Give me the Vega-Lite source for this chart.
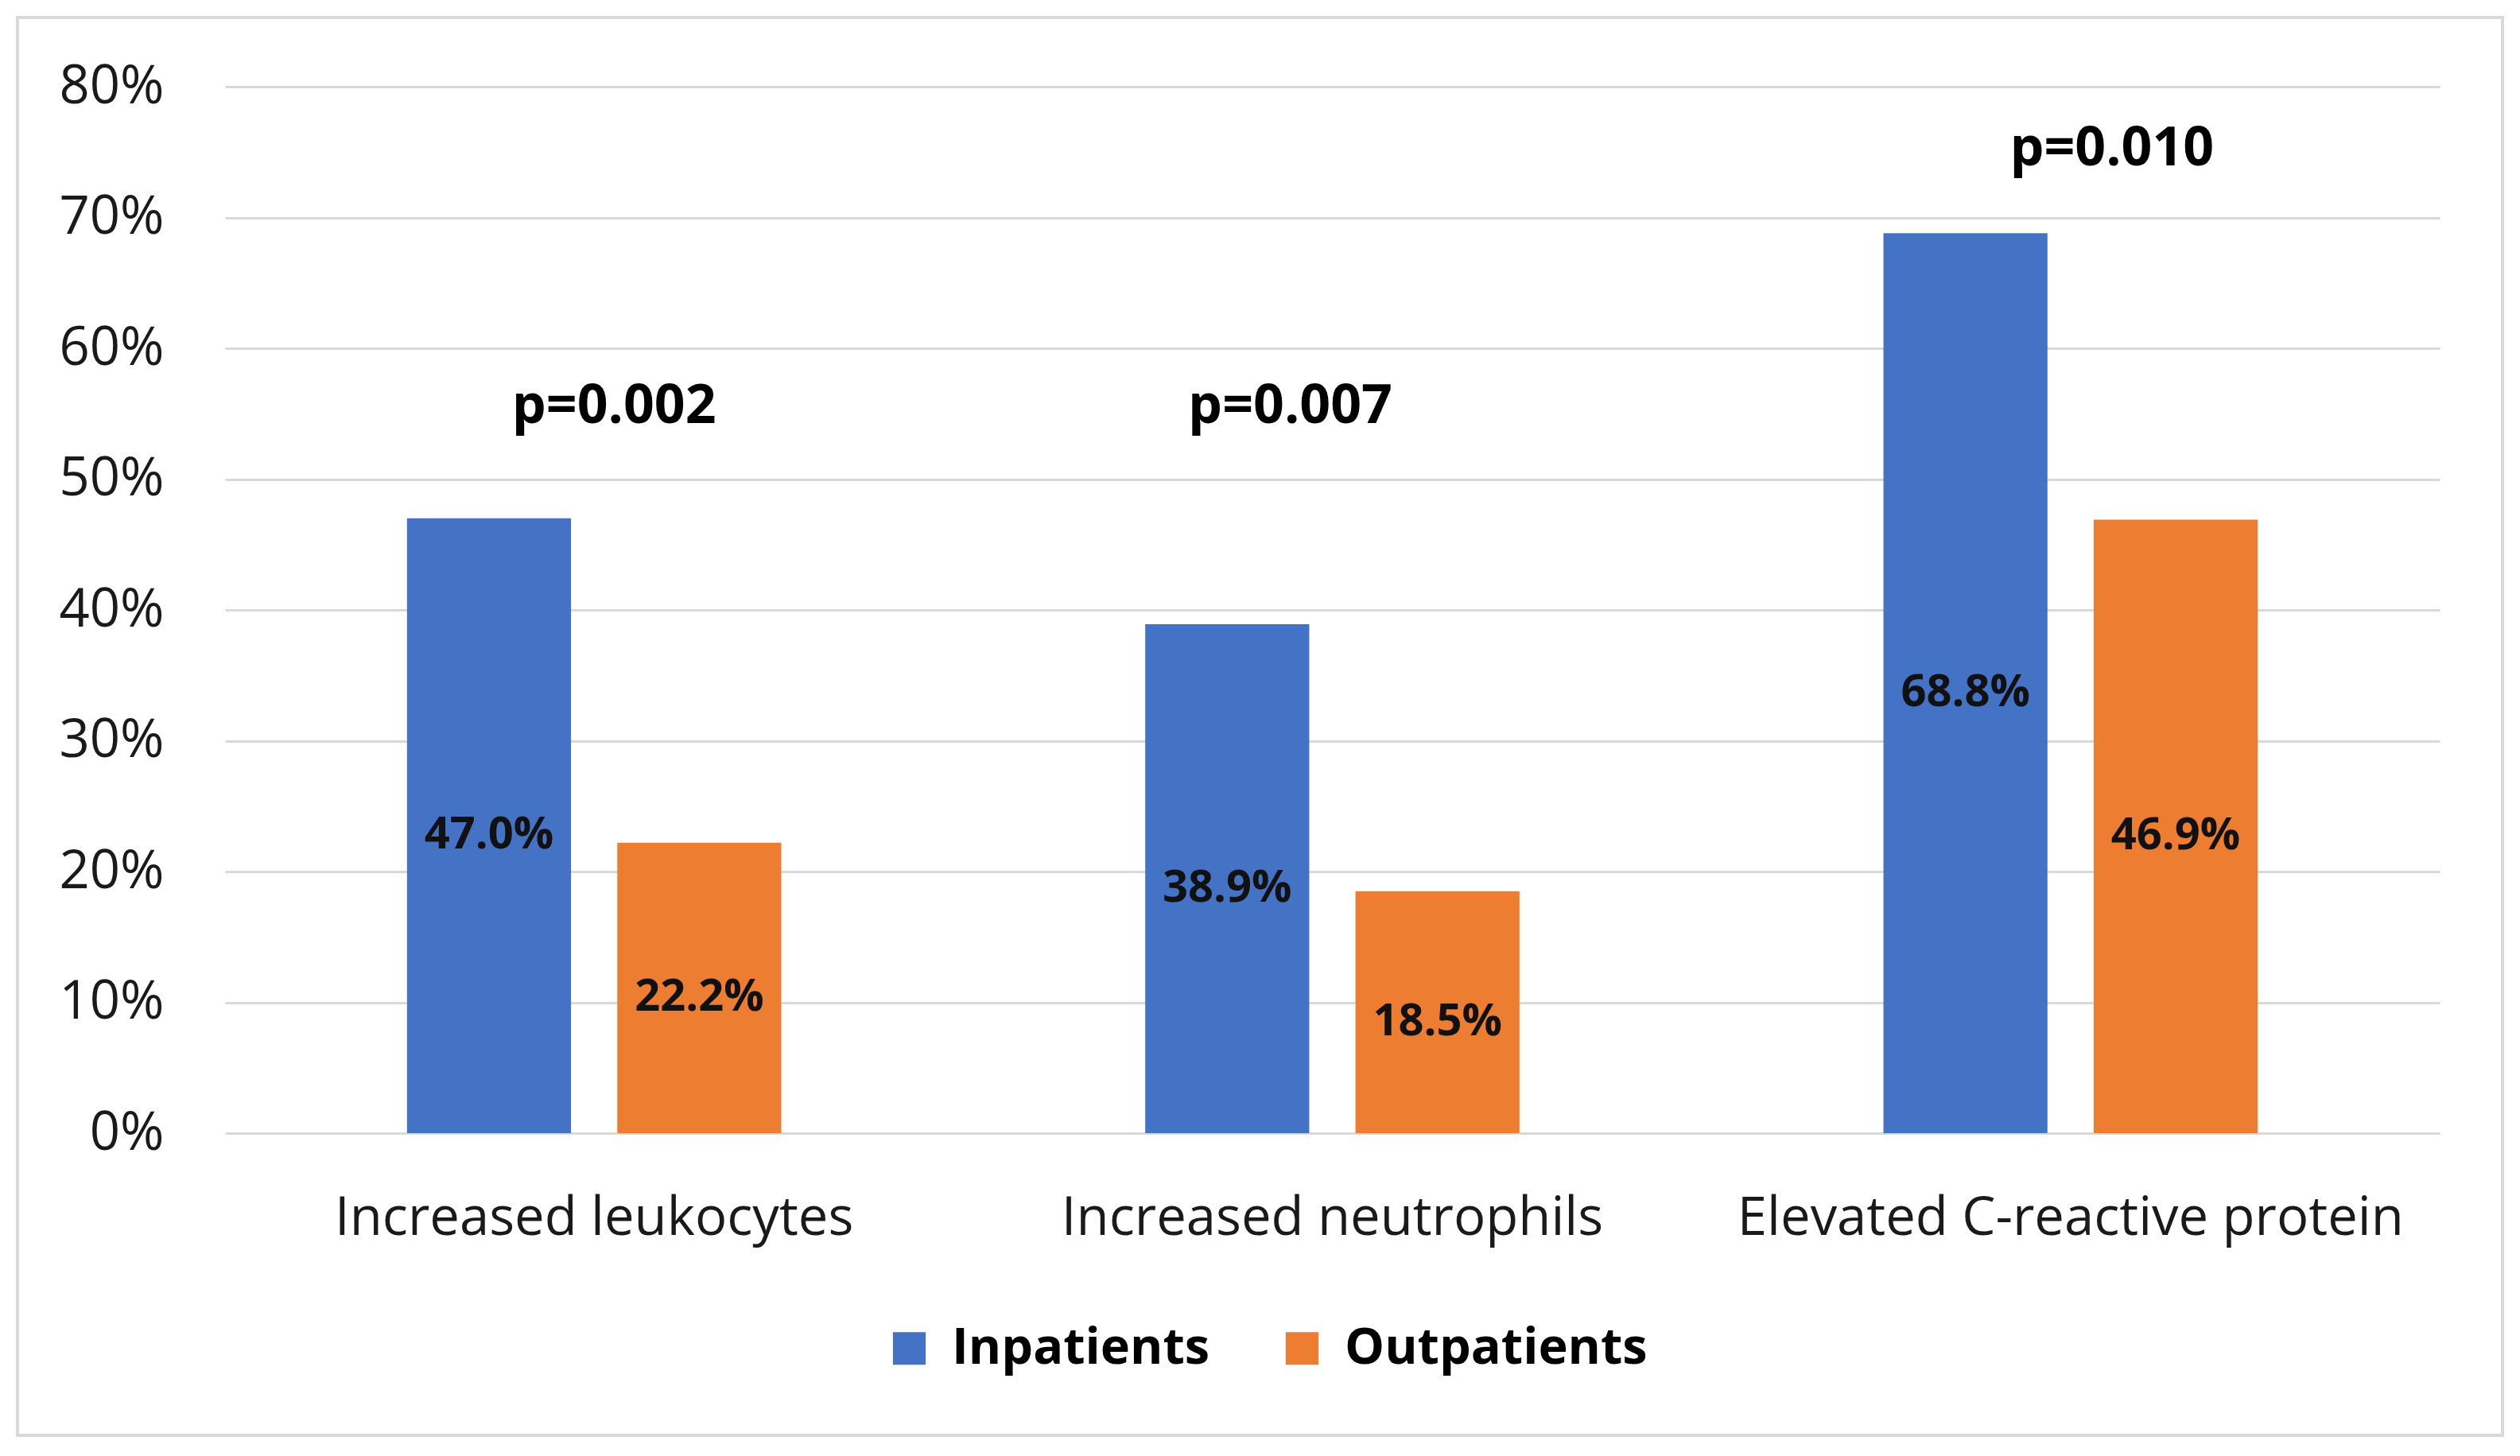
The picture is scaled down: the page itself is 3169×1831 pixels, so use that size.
{
  "$schema": "https://vega.github.io/schema/vega-lite/v6.json",
  "width": 3125,
  "height": 1783,
  "autosize": {"type": "none"},
  "padding": {"left": 22, "top": 22, "right": 22, "bottom": 26},
  "background": "white",
  "config": {
    "view": {"stroke": "#d9d9d9", "strokeWidth": 4, "fill": "white"},
    "font": "Open Sans",
    "axis": {"labelFont": "Open Sans", "labelColor": "#1a1a1a"}
  },
  "datasets": {
    "bars": [
      {"category": "Increased leukocytes", "group": "Inpatients", "value": 0.470},
      {"category": "Increased leukocytes", "group": "Outpatients", "value": 0.222},
      {"category": "Increased neutrophils", "group": "Inpatients", "value": 0.389},
      {"category": "Increased neutrophils", "group": "Outpatients", "value": 0.185},
      {"category": "Elevated C-reactive protein", "group": "Inpatients", "value": 0.688},
      {"category": "Elevated C-reactive protein", "group": "Outpatients", "value": 0.469}
    ]
  },
  "resolve": {"axis": {"y": "independent"}},
  "layer": [
    {
      "data": {"name": "bars"},
      "mark": {"type": "bar"},
      "encoding": {
        "x": {
          "field": "category", "type": "nominal", "sort": null, "title": null,
          "scale": {"range": [261, 3046], "paddingInner": 0.493, "paddingOuter": 0.2465},
          "axis": {"orient": "bottom", "offset": -380, "domain": false, "ticks": false, "tickSize": 0, "labelAngle": 0, "labelFontSize": 67, "labelPadding": 127, "labelBaseline": "alphabetic", "labelColor": "#1a1a1a", "labelLimit": 2000}
        },
        "xOffset": {"field": "group", "type": "nominal", "sort": null, "scale": {"paddingInner": 0.22, "paddingOuter": 0}},
        "y": {
          "field": "value", "type": "quantitative", "title": null,
          "scale": {"domain": [0, 0.8], "range": [1403, 87], "nice": false, "zero": true},
          "axis": {"orient": "left", "offset": -184, "values": [0, 0.1, 0.2, 0.3, 0.4, 0.5, 0.6, 0.7, 0.8], "format": ".0%", "grid": false, "domain": false, "ticks": false, "tickSize": 0, "labelPadding": 0, "labelFontSize": 67, "labelAlign": "right", "labelBaseline": "middle", "labelColor": "#1a1a1a"}
        },
        "color": {
          "field": "group", "type": "nominal", "sort": null,
          "scale": {"domain": ["Inpatients", "Outpatients"], "range": ["#4472C4", "#ED7D31"]},
          "legend": {"orient": "none", "legendX": 1090, "legendY": 1642, "direction": "horizontal", "title": null, "labelFontSize": 63, "labelFontWeight": "bold", "labelFont": "Open Sans", "labelColor": "#000000", "labelLimit": 0, "symbolType": "square", "symbolSize": 1700, "symbolStrokeWidth": 0, "symbolOpacity": 1, "labelOffset": 22, "columnPadding": 84}
        }
      }
    },
    {
      "data": {"name": "bars"},
      "transform": [{"calculate": "datum.value / 2", "as": "mid"}],
      "mark": {"type": "text", "font": "Open Sans", "fontWeight": "bold", "fontSize": 56, "color": "#111111", "baseline": "middle", "align": "center", "dy": 12},
      "encoding": {
        "x": {"field": "category", "type": "nominal", "sort": null, "title": null},
        "xOffset": {"field": "group", "type": "nominal", "sort": null},
        "y": {
          "field": "mid", "type": "quantitative", "title": null,
          "axis": {"orient": "right", "offset": -79, "values": [0, 0.1, 0.2, 0.3, 0.4, 0.5, 0.6, 0.7, 0.8], "labels": false, "domain": false, "grid": false, "ticks": true, "tickSize": -2785, "tickColor": "#d9d9d9", "tickWidth": 3}
        },
        "text": {"field": "value", "type": "quantitative", "format": ".1%"}
      }
    },
    {
      "data": {"values": [{"category": "Increased leukocytes", "p": "p=0.002"}]},
      "mark": {"type": "text", "font": "Open Sans", "fontWeight": "bold", "fontSize": 68, "dx": 25, "baseline": "alphabetic", "align": "center", "color": "#000000"},
      "encoding": {
        "x": {"field": "category", "type": "nominal", "sort": null, "title": null},
        "y": {"datum": 0.543, "type": "quantitative", "axis": null},
        "text": {"field": "p"}
      }
    },
    {
      "data": {"values": [{"category": "Increased neutrophils", "p": "p=0.007"}]},
      "mark": {"type": "text", "font": "Open Sans", "fontWeight": "bold", "fontSize": 68, "dx": -53, "baseline": "alphabetic", "align": "center", "color": "#000000"},
      "encoding": {
        "x": {"field": "category", "type": "nominal", "sort": null, "title": null},
        "y": {"datum": 0.543, "type": "quantitative", "axis": null},
        "text": {"field": "p"}
      }
    },
    {
      "data": {"values": [{"category": "Elevated C-reactive protein", "p": "p=0.010"}]},
      "mark": {"type": "text", "font": "Open Sans", "fontWeight": "bold", "fontSize": 68, "dx": 52, "baseline": "alphabetic", "align": "center", "color": "#000000"},
      "encoding": {
        "x": {"field": "category", "type": "nominal", "sort": null, "title": null},
        "y": {"datum": 0.740, "type": "quantitative", "axis": null},
        "text": {"field": "p"}
      }
    }
  ]
}
